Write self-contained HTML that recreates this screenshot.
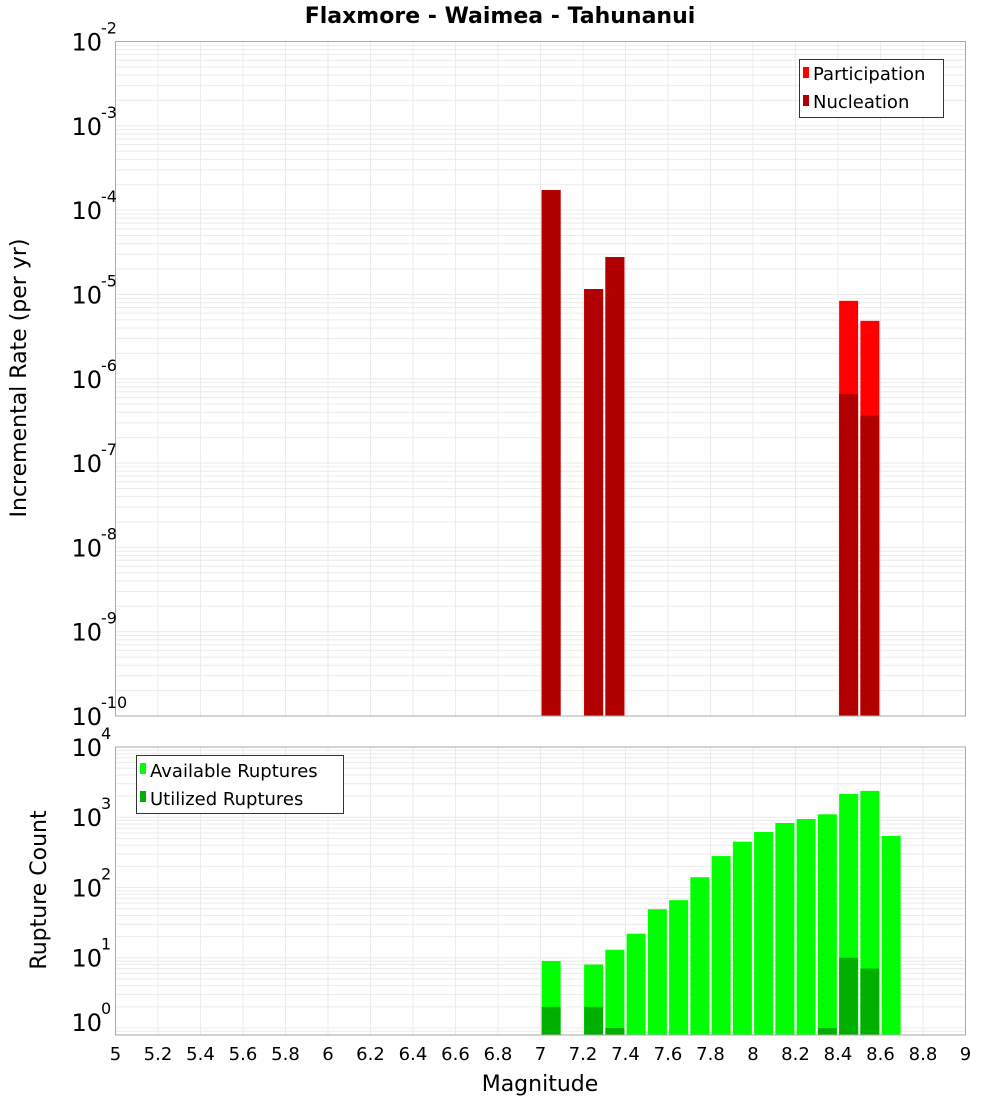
<!DOCTYPE html>
<html><head><meta charset="utf-8"><style>
body{margin:0;background:#fff;}
svg text{font-family:"DejaVu Sans","Liberation Sans",sans-serif;}
</style></head><body>
<svg id="chart" width="1000" height="1100" xmlns="http://www.w3.org/2000/svg">
<rect width="1000" height="1100" fill="#fff"/>
<text x="500" y="23" text-anchor="middle" font-size="22" font-weight="bold">Flaxmore - Waimea - Tahunanui</text>
<g id="topG"></g>
<g id="botG"></g>
<text transform="translate(26,378) rotate(-90)" text-anchor="middle" font-size="22">Incremental Rate (per yr)</text>
<text transform="translate(46,890) rotate(-90)" text-anchor="middle" font-size="22">Rupture Count</text>
<text x="540" y="1091" text-anchor="middle" font-size="22">Magnitude</text>
<g>
<rect x="799.5" y="59.5" width="144" height="58" fill="#fff" stroke="#333"/>
<rect x="803" y="67" width="6" height="11" fill="#ff0000"/>
<text x="813" y="80" font-size="18">Participation</text>
<rect x="803" y="95" width="6" height="11" fill="#b20000"/>
<text x="813" y="108" font-size="18">Nucleation</text>
</g>
<g>
<rect x="136.5" y="755.5" width="207" height="58" fill="#fff" stroke="#333"/>
<rect x="140" y="763" width="6" height="11" fill="#00ff00"/>
<text x="150" y="777" font-size="18">Available Ruptures</text>
<rect x="140" y="791" width="6" height="11" fill="#00b000"/>
<text x="150" y="805" font-size="18">Utilized Ruptures</text>
</g>
</svg>
<script>
const mags=[7.05,7.25,7.35,8.45,8.55];
const participation=[1.73e-4,1.16e-5,2.78e-5,8.4e-6,4.86e-6];
const nucleation=[1.73e-4,1.16e-5,2.78e-5,6.6e-7,3.65e-7];
const countMags=[7.05,7.25,7.35,7.45,7.55,7.65,7.75,7.85,7.95,8.05,8.15,8.25,8.35,8.45,8.55,8.65];
const available=[9,8,13,22,49,66,140,280,449,616,828,944,1100,2140,2370,541];
const utilized=[2,2,1,0,0,0,0,0,0,0,0,0,1,10,7,0];
const xTicks=["5","5.2","5.4","5.6","5.8","6","6.2","6.4","6.6","6.8","7","7.2","7.4","7.6","7.8","8","8.2","8.4","8.6","8.8","9"];
const topExps=[-2,-3,-4,-5,-6,-7,-8,-9,-10];
const botExps=[4,3,2,1,0];

const NS="http://www.w3.org/2000/svg";
const L=115.5,R=965.5;
const xs=m=>L+(m-5)/4*(R-L);
const T1=41.5,B1=716,yT=v=>B1-(Math.log10(v)+10)/8*(B1-T1);
const T2=747,B2=1035,yB=v=>B2-(Math.log10(v)+0.1)/4.1*(B2-T2);
function mk(p,tag,a){const e=document.createElementNS(NS,tag);for(const k in a)e.setAttribute(k,a[k]);p.appendChild(e);return e;}
function grid(g,T,B,lo,hi,yf){
  const gg=mk(g,'g',{});
  
  
  for(let e=lo;e<hi;e++)for(let k=1;k<10;k++){const v=k*Math.pow(10,e);const y=yf(v);if(y<T||y>B)continue;
    mk(gg,'line',{x1:L,x2:R,y1:y,y2:y,stroke:'#ebebeb','stroke-width':1});}
  xTicks.forEach(t=>{const x=xs(+t);mk(gg,'line',{x1:x,x2:x,y1:T,y2:B,stroke:'#ebebeb','stroke-width':1});});
}
const topG=document.getElementById('topG'),botG=document.getElementById('botG');
grid(topG,T1,B1,-10,-2,yT);
grid(botG,T2,B2,-1,4,yB);
const bw=19;
mags.forEach((m,i)=>{
  const x=xs(m)-bw/2;
  let r=mk(topG,'rect',{x:x,y:yT(participation[i]),width:bw,height:B1-yT(participation[i]),fill:'#ff0000'});
  
  
  r=mk(topG,'rect',{x:x,y:yT(nucleation[i]),width:bw,height:B1-yT(nucleation[i]),fill:'#b20000'});
  
  
});
countMags.forEach((m,i)=>{
  const x=xs(m)-bw/2;
  if(available[i]>0){const r=mk(botG,'rect',{x:x,y:yB(available[i]),width:bw,height:B2-yB(available[i]),fill:'#00ff00'});
    
    }
  if(utilized[i]>0){const r=mk(botG,'rect',{x:x,y:yB(utilized[i]),width:bw,height:B2-yB(utilized[i]),fill:'#00b000'});
    
    }
});
mk(topG,'rect',{x:L,y:T1,width:R-L,height:B1-T1,fill:'none',stroke:'#aaa'});
mk(botG,'rect',{x:L,y:T2,width:R-L,height:B2-T2,fill:'none',stroke:'#aaa'});
function ylab(g,e,y){
  const t=mk(g,'text',{x:102,y:y+9,'text-anchor':'end','font-size':24});
  
  
  t.textContent='10';
  const s=mk(g,'text',{x:101,y:y-8,'font-size':16});
  
  
  s.textContent=String(e);
}
topExps.forEach(e=>ylab(topG,e,yT(Math.pow(10,e))));
botExps.forEach(e=>ylab(botG,e,yB(Math.pow(10,e))-(e===0?6:0)));
xTicks.forEach(t=>{
  const tx=mk(botG,'text',{x:xs(+t),y:1060,'text-anchor':'middle','font-size':18});
  
  
  tx.textContent=t;
});
</script>
</body></html>
